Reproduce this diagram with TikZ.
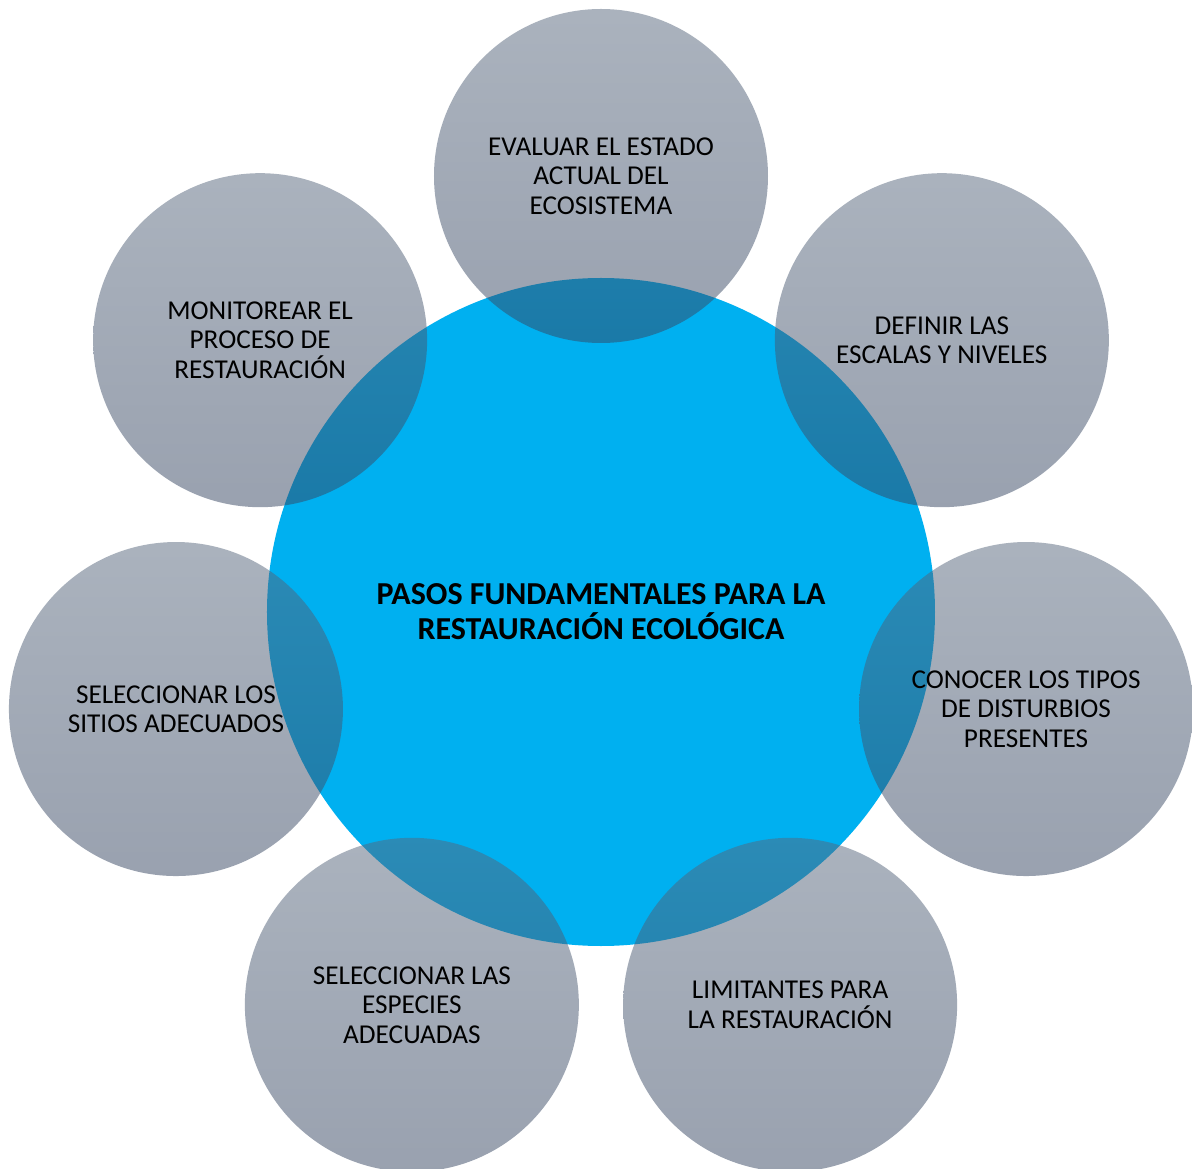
\documentclass[tikz,border=0pt]{standalone}
\usepackage{fontspec}
\setmainfont{Carlito}
\usetikzlibrary{positioning}

\definecolor{hubblue}{HTML}{00B0F0}
\definecolor{pasotop}{RGB}{87,103,125}
\definecolor{pasobottom}{RGB}{53,69,97}

\tikzstyle{every node}=[font=\fontsize{15.5}{16.8}\selectfont]
\tikzstyle{hub}=[circle, minimum size=13.36cm, inner sep=0pt, fill=hubblue,
  align=center, font=\bfseries\fontsize{18.2}{19.9}\selectfont]
\tikzstyle{paso}=[circle, minimum size=6.68cm, inner sep=0pt,
  top color=pasotop, bottom color=pasobottom,
  fill opacity=0.5, text opacity=1, align=center]

\begin{document}
\begin{tikzpicture}
\path[use as bounding box, fill=white] (-12.02,-11.14) rectangle (11.82,12.24);

\node[hub] (Pasos) {PASOS FUNDAMENTALES PARA LA\\RESTAURACIÓN ECOLÓGICA};

% seven steps around the hub, clockwise from the top
\node[paso] (Evaluar) at (90:8.72) {EVALUAR EL ESTADO\\ACTUAL DEL\\ECOSISTEMA};
\node[paso] (Definir) at (38.57:8.72) {DEFINIR LAS\\ESCALAS Y NIVELES};
\node[paso] (Conocer) at (-12.86:8.72) {CONOCER LOS TIPOS\\DE DISTURBIOS\\PRESENTES};
\node[paso] (Limitantes) at (-64.29:8.72) {LIMITANTES PARA\\LA RESTAURACIÓN};
\node[paso] (Especies) at (-115.71:8.72) {SELECCIONAR LAS\\ESPECIES\\ADECUADAS};
\node[paso] (Sitios) at (-167.14:8.72) {SELECCIONAR LOS\\SITIOS ADECUADOS};
\node[paso] (Monitorear) at (141.43:8.72) {MONITOREAR EL\\PROCESO DE\\RESTAURACIÓN};

\end{tikzpicture}
\end{document}
